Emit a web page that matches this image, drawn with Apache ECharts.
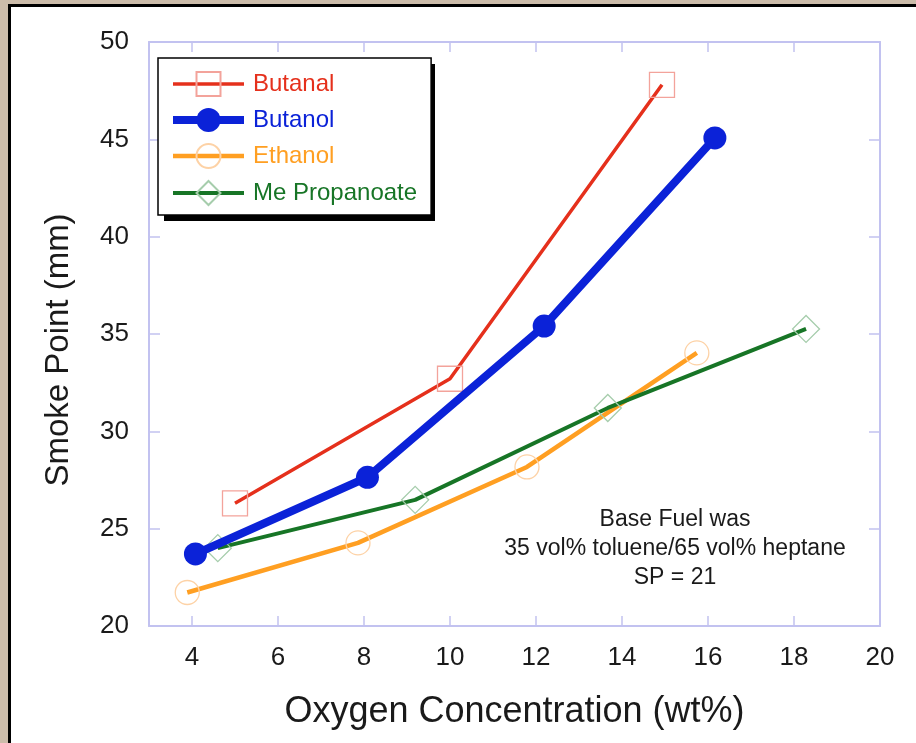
<!DOCTYPE html>
<html>
<head>
<meta charset="utf-8">
<script src="https://cdn.jsdelivr.net/npm/echarts@6/dist/echarts.min.js"></script>
<style>
  html, body { margin: 0; padding: 0; width: 916px; height: 743px; overflow: hidden; background: #ccbcaa; }
  #panel { position: absolute; left: 8px; top: 4px; width: 1000px; height: 900px; background: #fff; border: 3px solid #000; box-sizing: border-box; }
  #chart { position: absolute; left: 0; top: 0; width: 916px; height: 743px; }
</style>
</head>
<body>
<div id="panel"></div>
<div id="chart"></div>
<script>
// ---- data ----
const seriesNames = ['Butanal', 'Butanol', 'Ethanol', 'Me Propanoate'];
const butanalX = [5.0, 10.0, 14.93];
const butanalY = [26.3, 32.7, 47.8];
const butanolX = [4.08, 8.08, 12.19, 16.16];
const butanolY = [23.7, 27.64, 35.41, 45.07];
const ethanolX = [3.89, 7.86, 11.79, 15.74];
const ethanolY = [21.72, 24.27, 28.17, 34.03];
const mePropX = [4.6, 9.19, 13.67, 18.28];
const mePropY = [24.0, 26.48, 31.2, 35.26];
const xTicks = [4, 6, 8, 10, 12, 14, 16, 18, 20];
const yTicks = [20, 25, 30, 35, 40, 45, 50];
const xTitle = 'Oxygen Concentration (wt%)';
const yTitle = 'Smoke Point (mm)';
const noteLines = ['Base Fuel was', '35 vol% toluene/65 vol% heptane', 'SP = 21'];

const pairs = (xs, ys) => xs.map((x, i) => [x, ys[i]]);

const FONT = '"Liberation Sans", Arial, Helvetica, sans-serif';
const AXIS = '#c2c2f0';
const TXT = '#1a1a1a';
const colors = { red: '#e5301c', blue: '#0b22d8', orange: '#ff9f22', green: '#177526' };
const widths = { red: 3.5, blue: 8, orange: 4.5, green: 4 };

const chart = echarts.init(document.getElementById('chart'), null, { renderer: 'canvas' });

const baseX = {
  type: 'value', min: 3, max: 20, gridIndex: 0,
  axisLine: { show: true, lineStyle: { color: AXIS, width: 2 } },
  axisTick: { show: true, inside: true, length: 10, customValues: xTicks, lineStyle: { color: AXIS, width: 1.5 } },
  splitLine: { show: false }
};
const baseY = {
  type: 'value', min: yTicks[0], max: yTicks[yTicks.length - 1], interval: 5, gridIndex: 0,
  axisLine: { show: true, lineStyle: { color: AXIS, width: 2 } },
  axisTick: { show: true, inside: true, length: 11, lineStyle: { color: AXIS, width: 1.5 } },
  splitLine: { show: false }
};

const option = {
  backgroundColor: 'transparent',
  animation: false,
  textStyle: { fontFamily: FONT },
  grid: { left: 149, right: 36, top: 42, bottom: 117, containLabel: false },
  xAxis: [
    Object.assign({}, baseX, {
      position: 'bottom',
      axisLabel: { show: true, customValues: xTicks, color: TXT, fontSize: 26, fontFamily: FONT, margin: 19 },
      name: xTitle, nameLocation: 'middle', nameGap: 68,
      nameTextStyle: { color: TXT, fontSize: 36, fontFamily: FONT }
    }),
    Object.assign({}, baseX, { position: 'top', axisLabel: { show: false } })
  ],
  yAxis: [
    Object.assign({}, baseY, {
      position: 'left',
      axisLabel: { show: true, color: TXT, fontSize: 26, fontFamily: FONT, margin: 20 },
      name: yTitle, nameLocation: 'middle', nameGap: 74,
      nameTextStyle: { color: TXT, fontSize: 33, fontFamily: FONT, padding: [0, 32, 0, 0] }
    }),
    Object.assign({}, baseY, { position: 'right', axisLabel: { show: false } })
  ],
  legend: {
    show: true, orient: 'vertical', left: 158, top: 58, z: 10,
    padding: [13, 14, 9, 11],
    itemWidth: 71, itemHeight: 30, itemGap: 11,
    backgroundColor: '#fff', borderColor: '#000', borderWidth: 1.5,
    textStyle: { fontSize: 24, fontFamily: FONT, padding: [0, 0, 0, 4] },
    data: [
      { name: seriesNames[0], textStyle: { color: colors.red }, lineStyle: { width: widths.red } },
      { name: seriesNames[1], textStyle: { color: colors.blue }, lineStyle: { width: widths.blue } },
      { name: seriesNames[2], textStyle: { color: colors.orange }, lineStyle: { width: widths.orange } },
      { name: seriesNames[3], textStyle: { color: colors.green }, lineStyle: { width: widths.green } }
    ]
  },
  graphic: [
    {
      type: 'rect', z: 1, left: 164, top: 64,
      shape: { width: 271, height: 157 },
      style: { fill: '#000' }
    },
    {
      type: 'text', left: 675 - 180, top: 505,
      style: {
        text: noteLines.join('\n'), x: 0, y: 0, width: 360,
        align: 'center', textAlign: 'center',
        font: '23px ' + FONT, fill: TXT, lineHeight: 29
      }
    }
  ],
  series: [
    {
      name: seriesNames[0], type: 'line', data: pairs(butanalX, butanalY),
      color: colors.red, symbol: 'rect', symbolSize: 25,
      lineStyle: { color: colors.red, width: widths.red },
      itemStyle: { color: 'rgba(255,255,255,0)', borderColor: '#f3a39b', borderWidth: 1.3 },
      z: 3
    },
    {
      name: seriesNames[1], type: 'line', data: pairs(butanolX, butanolY),
      color: colors.blue, symbol: 'circle', symbolSize: 23,
      lineStyle: { color: colors.blue, width: widths.blue },
      itemStyle: { color: colors.blue, borderWidth: 0 },
      z: 4
    },
    {
      name: seriesNames[2], type: 'line', data: pairs(ethanolX, ethanolY),
      color: colors.orange, symbol: 'circle', symbolSize: 24,
      lineStyle: { color: colors.orange, width: widths.orange },
      itemStyle: { color: 'rgba(255,255,255,0)', borderColor: '#fdd2a6', borderWidth: 1.3 },
      z: 2
    },
    {
      name: seriesNames[3], type: 'line', data: pairs(mePropX, mePropY),
      color: colors.green, symbol: 'diamond', symbolSize: 27,
      lineStyle: { color: colors.green, width: widths.green },
      itemStyle: { color: 'rgba(255,255,255,0)', borderColor: '#a6cdac', borderWidth: 1.3 },
      z: 3
    }
  ]
};
chart.setOption(option);
</script>
</body>
</html>
